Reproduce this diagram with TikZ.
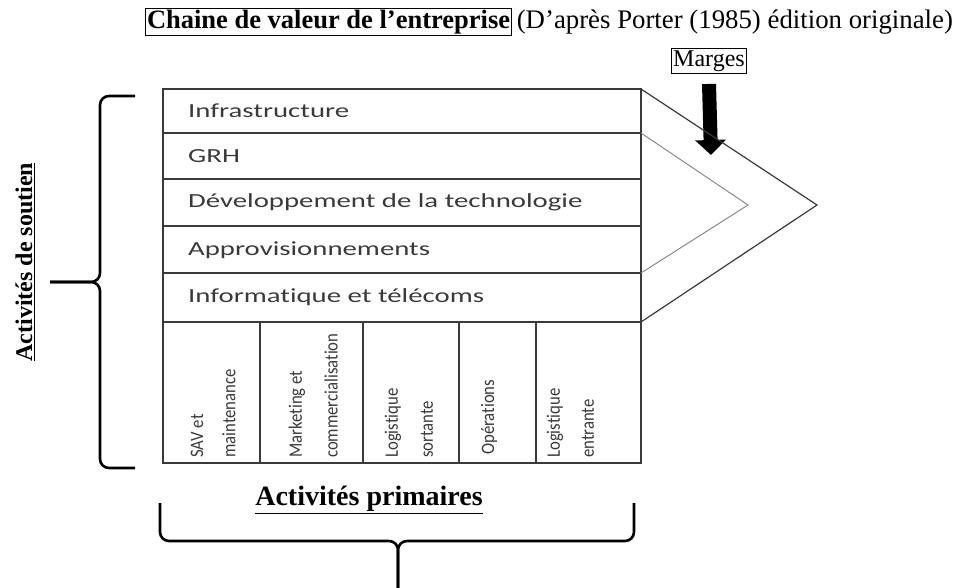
\documentclass[tikz,border=0pt]{standalone}
\usepackage{fontspec}
\setmainfont{Liberation Serif}
\newfontfamily\rowfont[FakeStretch=1.44,Ligatures=NoCommon]{Carlito}
\newfontfamily\colfont[FakeStretch=0.88,Ligatures=NoCommon]{Carlito}
\usetikzlibrary{arrows.meta}
\definecolor{trait}{HTML}{3A3A3A}

\begin{document}
\begin{tikzpicture}[x=1pt,y=-1pt,>=Triangle,
    cell/.style={draw=trait,line width=1.4pt},
    rowtext/.style={anchor=west,inner sep=0pt,text=trait,font=\rowfont\fontsize{20}{24}\selectfont},
    coltext/.style={anchor=west,rotate=90,inner sep=0pt,text=trait,font=\colfont\fontsize{19}{22}\selectfont},
    brace/.style={line width=2.6pt,rounded corners=9pt}]
			\useasboundingbox (0,0) rectangle (956,587);
			\node[draw,line width=1pt,inner sep=1.5pt,anchor=west,font=\fontsize{26.5}{30}\selectfont\bfseries] (titre) at (145,22) {Chaine de valeur de l’entreprise};
			\node[anchor=base west,inner sep=1.5pt,font=\fontsize{26.8}{30}\selectfont] (source) at ([xshift=3pt]titre.base east) {(D’après Porter (1985) édition originale)};
			\node[draw,line width=1pt,inner sep=2pt,font=\fontsize{24}{28}\selectfont] (marges) at (709,61) {Marges};
			\coordinate (pointe) at (711,155);
			\draw[->,line width=14pt,arrows={-Triangle[width=30pt,length=15pt]}] ([yshift=-10pt]marges.south) -- (pointe);
			\draw[cell] (163,89) rectangle (641,133);
			\node[rowtext] (infra) at (188,111) {Infrastructure};
			\draw[cell] (163,133) rectangle (641,179);
			\node[rowtext] (grh) at (188,156) {GRH};
			\draw[cell] (163,179) rectangle (641,226);
			\node[rowtext] (techno) at (188,202) {Développement de la technologie};
			\draw[cell] (163,226) rectangle (641,273);
			\node[rowtext] (appro) at (188,250) {Approvisionnements};
			\draw[cell] (163,273) rectangle (641,322);
			\node[rowtext] (info) at (188,297) {Informatique et télécoms};
			\draw[line width=1.2pt,draw=trait] (641,89) -- (817,205) -- (641,322);
			\draw[line width=0.9pt,draw=gray] (641,133) -- (748,205) -- (641,273);
			\draw[cell] (163,322) rectangle (260,463);
			\node[coltext] (sav) at (197,458) {SAV et};
			\node[coltext] (maint) at (229,458) {maintenance};
			\draw[cell] (260,322) rectangle (363,463);
			\node[coltext] (market) at (297,458) {Marketing et};
			\node[coltext] (commerc) at (331,458) {commercialisation};
			\draw[cell] (363,322) rectangle (459,463);
			\node[coltext] (logsort) at (393,458) {Logistique};
			\node[coltext] (sortante) at (427,458) {sortante};
			\draw[cell] (459,322) rectangle (536,463);
			\node[coltext] (operations) at (489,455) {Opérations};
			\draw[cell] (536,322) rectangle (641,463);
			\node[coltext] (logent) at (555,458) {Logistique};
			\node[coltext] (entrante) at (588,458) {entrante};
			\draw[brace] (135,96) -- (100,96) -- (100,282) -- (50,282);
			\draw[brace] (50,282) -- (100,282) -- (100,468) -- (135,468);
			\node[rotate=90,font=\fontsize{24}{28}\selectfont\bfseries] (soutien) at (25,262) {\underline{Activités de soutien}};
			\draw[brace] (160,503) -- (160,541) -- (398,541) -- (398,592);
			\draw[brace] (634,503) -- (634,541) -- (398,541) -- (398,592);
			\node[font=\fontsize{28}{30}\selectfont\bfseries] (primaires) at (369,500) {\underline{Activités primaires}};
		\end{tikzpicture}
\end{document}
